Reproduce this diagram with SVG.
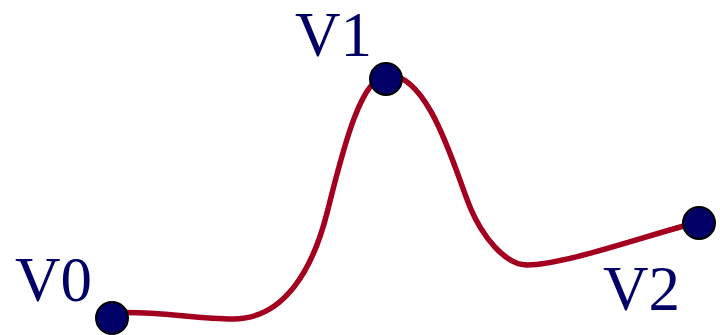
<svg xmlns="http://www.w3.org/2000/svg" width="720" height="335" viewBox="0 0 720 335">
<style>
.lbl{font-family:"Liberation Serif","Times New Roman",serif;font-size:63px;fill:#000066}
.node{fill:#000066;stroke:#000000;stroke-width:2}
.curve{fill:none;stroke:#a3001f;stroke-width:5.5;stroke-linecap:round}
</style>
<rect width="720" height="335" fill="#ffffff"/>
<g id="connectors">
<path class="curve" d="M112,313 C150,310 195,319 233,319 C285,319 313,268 327,213 C341,158 360,75 388,75 C430,75 455,171 470,207 C482,236 505,265 527,265 C565,265 650,234 699,222"/>
</g>
<g id="V0"><circle class="node" cx="112" cy="318" r="16"/><text class="lbl" x="15" y="301">V0</text></g>
<g id="V1"><circle class="node" cx="386" cy="79" r="16"/><text class="lbl" x="295" y="56">V1</text></g>
<g id="V2"><circle class="node" cx="699" cy="223" r="16"/><text class="lbl" x="603" y="310">V2</text></g>
</svg>
